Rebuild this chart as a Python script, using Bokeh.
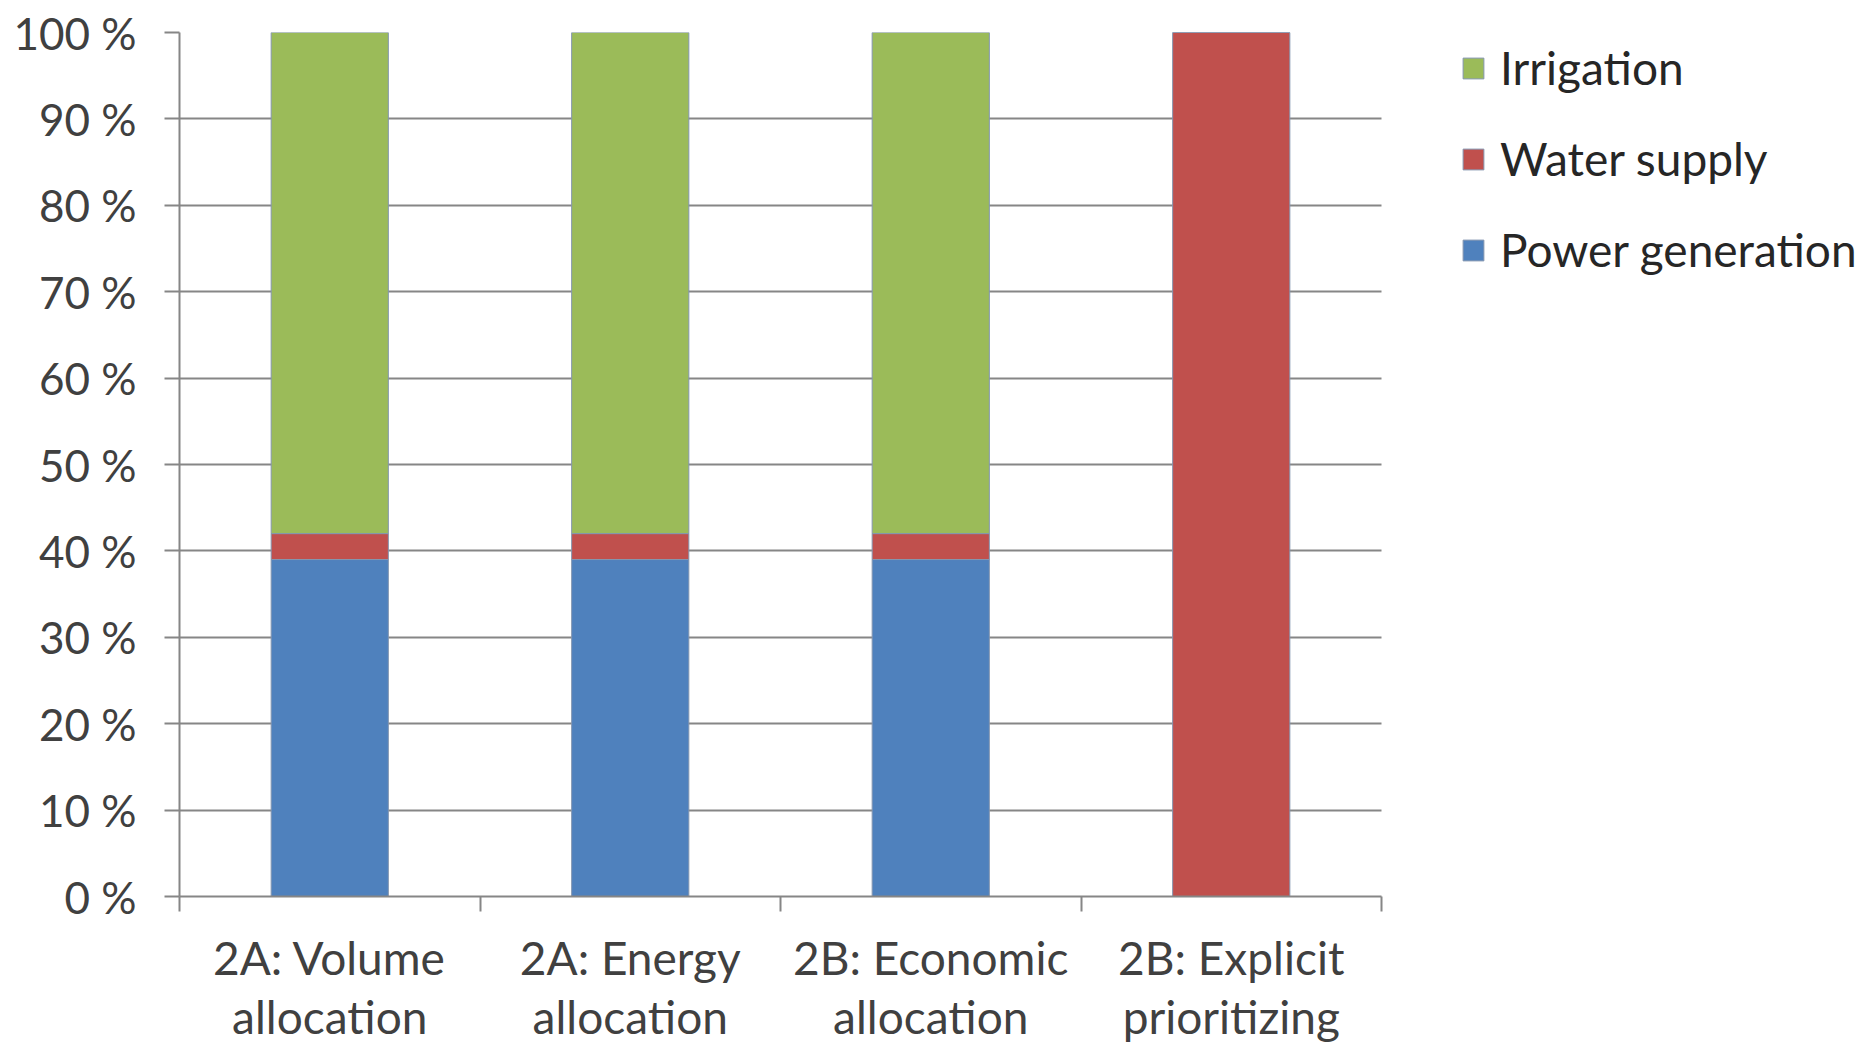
from bokeh.plotting import figure
from bokeh.models import FixedTicker, Legend, LegendItem, PrintfTickFormatter, ColumnDataSource
from bokeh.embed import file_html
from bokeh.resources import INLINE

# Allocation strategies and the share of release going to each use (%)
categories = ["2A: Volume\nallocation", "2A: Energy\nallocation",
              "2B: Economic\nallocation", "2B: Explicit\nprioritizing"]
power_generation = [39, 39, 39, 0]
water_supply = [3, 3, 3, 100]
irrigation = [58, 58, 58, 0]
y_ticks = [0, 10, 20, 30, 40, 50, 60, 70, 80, 90, 100]

series = ["power", "water", "irrigation"]
series_labels = {"power": "Power generation", "water": "Water supply", "irrigation": "Irrigation"}
colors = {"power": "#4F81BD", "water": "#C0504D", "irrigation": "#9BBB59"}

n = len(categories)
x_pos = [i + 0.5 for i in range(n)]
source = ColumnDataSource(dict(x=x_pos, power=power_generation,
                               water=water_supply, irrigation=irrigation))

FONT = "Lato"
TEXT = "#404040"
GRID = "#868686"

# The plotting area runs on to the right edge so the legend can sit beside
# the bars; axis and gridlines are bounded to the category span.
LEFT, RIGHT, TOP, BOTTOM = 179, 10, 32, 151
W, H = 1870, 1047
frame_w = W - LEFT - RIGHT
bars_w = 1202
x_end = n * frame_w / bars_w

p = figure(width=W, height=H, output_backend="svg", toolbar_location=None,
           x_range=(0, x_end), y_range=(0, 100),
           min_border_left=LEFT, min_border_right=RIGHT, min_border_top=TOP,
           min_border_bottom=BOTTOM)
p.outline_line_color = None
p.background_fill_color = "white"
p.border_fill_color = "white"

renderers = p.vbar_stack(series, x="x", width=0.39, source=source,
                         color=[colors[s] for s in series],
                         line_color="#8496B0", line_width=1)

# y axis: percent ticks, gridlines extend out as tick marks
p.yaxis.ticker = FixedTicker(ticks=y_ticks, minor_ticks=[])
p.yaxis.formatter = PrintfTickFormatter(format="%d %%")
p.yaxis.axis_line_color = GRID
p.yaxis.axis_line_width = 2
p.yaxis.major_tick_line_color = GRID
p.yaxis.major_tick_line_width = 2
p.yaxis.major_tick_out = 15
p.yaxis.major_tick_in = 0
p.yaxis.minor_tick_line_color = None
p.yaxis.major_label_text_font = FONT
p.yaxis.major_label_text_font_size = "44px"
p.yaxis.major_label_text_color = TEXT
p.yaxis.major_label_standoff = 28

# x axis: labels at bar centres, ticks at category boundaries
p.xaxis.bounds = (0, n)
p.xaxis.ticker = FixedTicker(ticks=x_pos, minor_ticks=list(range(n + 1)))
p.xaxis.major_label_overrides = {x: c for x, c in zip(x_pos, categories)}
p.xaxis.axis_line_color = GRID
p.xaxis.axis_line_width = 2
p.xaxis.major_tick_line_color = None
p.xaxis.major_tick_out = 0
p.xaxis.major_tick_in = 0
p.xaxis.minor_tick_line_color = GRID
p.xaxis.minor_tick_line_width = 2
p.xaxis.minor_tick_out = 15
p.xaxis.minor_tick_in = 0
p.xaxis.major_label_text_font = FONT
p.xaxis.major_label_text_font_size = "46px"
p.xaxis.major_label_text_color = TEXT
p.xaxis.major_label_text_line_height = 1.08
p.xaxis.major_label_standoff = 18

p.xgrid.grid_line_color = None
p.ygrid.ticker = FixedTicker(ticks=y_ticks)
p.ygrid.cross_bounds = (0, n)
p.ygrid.grid_line_color = GRID
p.ygrid.grid_line_width = 2

items = [LegendItem(label=series_labels[s], renderers=[r])
         for s, r in zip(series, renderers)]
legend = Legend(items=list(reversed(items)), location=(1281, 619),
                label_text_font=FONT, label_text_font_size="46px",
                label_text_color="#262626", glyph_width=26, glyph_height=26,
                label_standoff=14, spacing=36, padding=0, margin=0,
                border_line_color=None, background_fill_alpha=0)
p.add_layout(legend)

open("out.html", "w").write(file_html(p, INLINE))
